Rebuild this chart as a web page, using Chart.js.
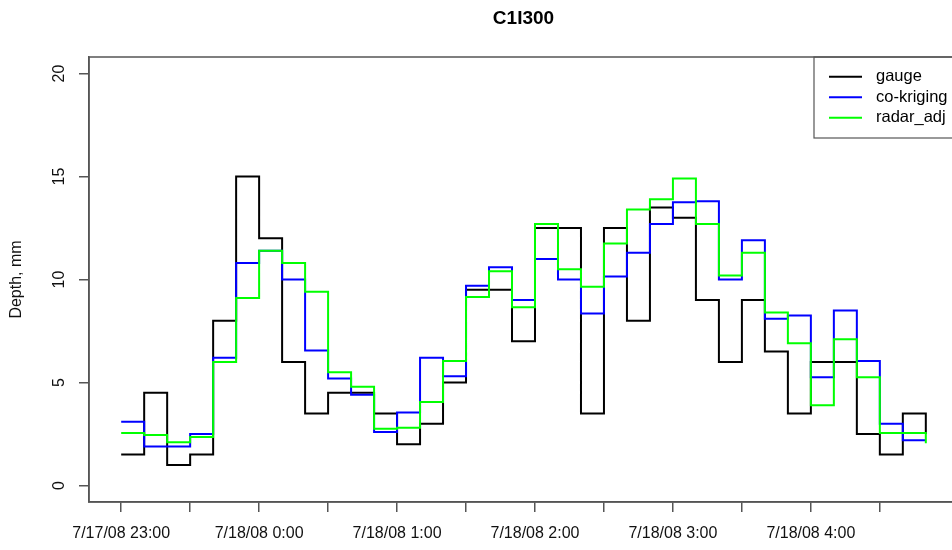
<!DOCTYPE html>
<html><head><meta charset="utf-8">
<script src="https://cdn.jsdelivr.net/npm/chart.js@4/dist/chart.umd.min.js"></script>
<style>
html,body{margin:0;padding:0;background:#fff;overflow:hidden;}
#wrap{position:relative;width:963px;height:550px;}
</style></head><body>
<div id="wrap"><canvas id="c"></canvas></div>
<script>
// time stamps of the 10-minute records (7/17/08 23:00 .. 7/18/08 4:50)
const times = ['23:00','23:10','23:20','23:30','23:40','23:50',
  '0:00','0:10','0:20','0:30','0:40','0:50',
  '1:00','1:10','1:20','1:30','1:40','1:50',
  '2:00','2:10','2:20','2:30','2:40','2:50',
  '3:00','3:10','3:20','3:30','3:40','3:50',
  '4:00','4:10','4:20','4:30','4:40','4:50'];
const gauge = [1.5,4.5,1.0,1.5,8.0,15.0, 12.0,6.0,3.5,4.5,4.5,3.5, 2.0,3.0,5.0,9.5,9.5,7.0,
  12.5,12.5,3.5,12.5,8.0,13.5, 13.0,9.0,6.0,9.0,6.5,3.5, 6.0,6.0,2.5,1.5,3.5,2.5];
const coKriging = [3.1,1.9,1.9,2.5,6.2,10.8, 11.4,10.0,6.55,5.2,4.4,2.6, 3.55,6.2,5.3,9.7,10.6,9.0,
  11.0,10.0,8.35,10.15,11.3,12.7, 13.75,13.8,10.0,11.9,8.1,8.25, 5.25,8.5,6.05,3.0,2.2,2.2];
const radarAdj = [2.55,2.45,2.1,2.35,6.0,9.1, 11.4,10.8,9.4,5.5,4.8,2.75, 2.8,4.05,6.05,9.15,10.4,8.65,
  12.7,10.5,9.65,11.75,13.4,13.9, 14.9,12.7,10.2,11.3,8.4,6.9, 3.9,7.1,5.25,2.55,2.55,2.05];
const seriesNames = ['gauge','co-kriging','radar_adj'];
const seriesColors = ['#000000','#0000ff','#00ff00'];
const xTickMinutes = [0,30,60,90,120,150,180,210,240,270,300,330];
const xTickLabels = ['7/17/08 23:00','7/18/08 0:00','7/18/08 1:00','7/18/08 2:00','7/18/08 3:00','7/18/08 4:00'];
const yTicks = [0,5,10,15,20];

function toMinutes(t){
  const [h,m] = t.split(':').map(Number);
  return ((h*60+m) - 23*60 + 1440) % 1440;
}
const xs = times.map(toMinutes);
function pts(vals){ return vals.map((v,i)=>({x:xs[i], y:v})); }

const FONT = 'Liberation Sans';
const AXIS = '#555';

const boxPlugin = {
  id: 'boxAndLegend',
  afterDraw(chart){
    const {ctx, chartArea:a} = chart;
    ctx.save();
    ctx.strokeStyle = AXIS; ctx.lineWidth = 1.5;
    ctx.strokeRect(a.left, a.top, a.right - a.left, a.bottom - a.top);
    const lw = 144, lh = 81;
    const lx = a.right - lw, ly = a.top;
    ctx.lineWidth = 1.2;
    ctx.strokeRect(lx, ly, lw, lh);
    chart.data.datasets.forEach((ds,i)=>{
      const y = ly + 19.7 + i*20.5;
      ctx.strokeStyle = ds.borderColor; ctx.lineWidth = 2;
      ctx.beginPath(); ctx.moveTo(lx+15, y); ctx.lineTo(lx+48, y); ctx.stroke();
      ctx.fillStyle = '#000';
      ctx.font = '16.5px "' + FONT + '"';
      ctx.textBaseline = 'middle'; ctx.textAlign = 'left';
      ctx.fillText(ds.label, lx+62, y);
    });
    ctx.restore();
  }
};

const series = [gauge, coKriging, radarAdj];
new Chart(document.getElementById('c'), {
  type: 'line',
  data: {
    datasets: series.map((vals,i)=>({
      label: seriesNames[i],
      data: pts(vals),
      borderColor: seriesColors[i],
      backgroundColor: seriesColors[i],
      borderWidth: 2,
      pointRadius: 0,
      stepped: 'before',
      fill: false,
      order: 3 - i
    }))
  },
  options: {
    responsive: true,
    maintainAspectRatio: false,
    animation: false,
    layout: {padding: {left: 0, top: 0, right: 5, bottom: 0}},
    plugins: {
      legend: {display: false},
      tooltip: {enabled: false},
      title: {
        display: true, text: 'C1I300', fullSize: false, color: '#000',
        font: {family: FONT, size: 19, weight: 'bold'},
        padding: {top: 7, bottom: 27.2}
      }
    },
    scales: {
      x: {
        type: 'linear', min: -14, max: 364,
        afterBuildTicks: s => { s.ticks = xTickMinutes.map(v => ({value: v})); },
        afterFit: s => { s.height = 48; },
        grid: {drawOnChartArea: false, drawTicks: true, tickLength: 10, color: AXIS, tickColor: AXIS, lineWidth: 1.5},
        border: {display: true, color: AXIS, width: 1.5},
        ticks: {
          autoSkip: false, minRotation: 0, maxRotation: 0, padding: 12, color: '#111',
          font: {family: FONT, size: 16},
          callback: v => (v % 60 === 0 ? xTickLabels[v/60] : '')
        }
      },
      y: {
        min: -0.8, max: 20.8,
        afterBuildTicks: s => { s.ticks = yTicks.map(v => ({value: v})); },
        afterFit: s => { s.width = 89; },
        grid: {drawOnChartArea: false, drawTicks: true, tickLength: 10, color: AXIS, tickColor: AXIS, lineWidth: 1.5},
        border: {display: true, color: AXIS, width: 1.5},
        ticks: {
          minRotation: 90, maxRotation: 90, crossAlign: 'center', padding: 11, color: '#111',
          font: {family: FONT, size: 16}
        },
        title: {display: true, text: 'Depth, mm', color: '#111', font: {family: FONT, size: 16}, padding: {top: 7, bottom: 0}}
      }
    }
  },
  plugins: [boxPlugin]
});
</script>
</body></html>
